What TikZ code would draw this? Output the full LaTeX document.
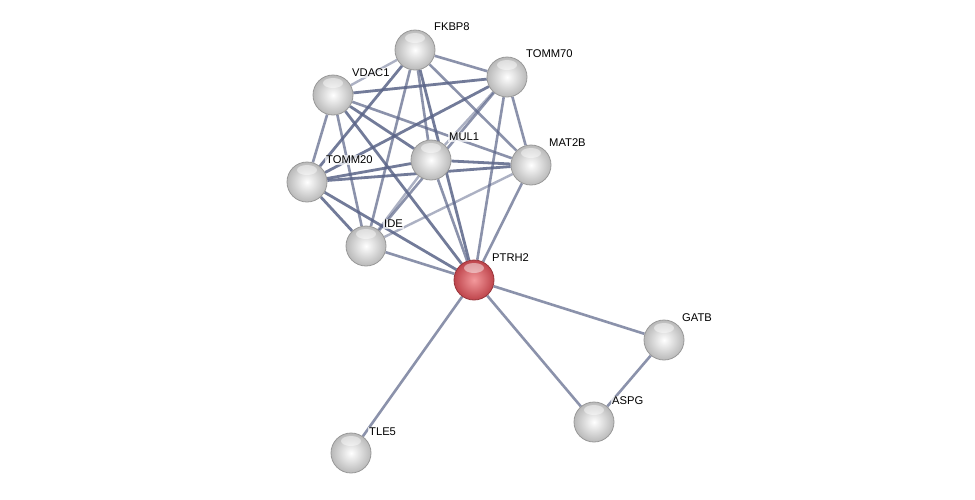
\documentclass[tikz,border=0pt]{standalone}
\usepackage{fontspec}
\setmainfont{Liberation Sans}
\usetikzlibrary{backgrounds}
\definecolor{edgec}{HTML}{5A6488}
\definecolor{redin}{HTML}{F3999C}
\definecolor{redout}{HTML}{BE444B}
\begin{document}
\begin{tikzpicture}[x=1pt,y=-1pt,
  ball/.style={circle,minimum size=40pt,inner sep=0pt,draw=gray!80,line width=0.8pt,
    shading=radial,inner color=white,outer color=gray!55,
    path picture={\fill[white,opacity=0.45] ([yshift=-8pt]path picture bounding box.north) ellipse (10pt and 5pt);}},
  redball/.style={ball,draw=redout!80!black,inner color=redin,outer color=redout},
  lab/.style={anchor=west,inner sep=1pt,fill=white,fill opacity=0.7,text opacity=1,
    font=\fontsize{11.2}{13}\selectfont},
  e/.style={draw=edgec,line width=2.8pt,opacity=0.85},
  em/.style={draw=edgec,line width=2.6pt,opacity=0.7},
  el/.style={draw=edgec,line width=2.4pt,opacity=0.5},
]
\useasboundingbox (0,0) rectangle (975,499);
% nodes
\node[ball] (FKBP8) at (415,50) {};
\node[ball] (TOMM70) at (507,77) {};
\node[ball] (VDAC1) at (333,95) {};
\node[ball] (MUL1) at (431,160) {};
\node[ball] (MAT2B) at (531,165) {};
\node[ball] (TOMM20) at (307,182) {};
\node[ball] (IDE) at (366,246) {};
\node[redball] (PTRH2) at (474,280) {};
\node[ball] (GATB) at (664,340) {};
\node[ball] (ASPG) at (594,422) {};
\node[ball] (TLE5) at (351,453) {};
% labels
\node[lab] (lFKBP8) at (433,27) {FKBP8};
\node[lab] (lTOMM70) at (525,54) {TOMM70};
\node[lab] (lVDAC1) at (351,73) {VDAC1};
\node[lab] (lMUL1) at (448,137) {MUL1};
\node[lab] (lMAT2B) at (548,143) {MAT2B};
\node[lab] (lTOMM20) at (325,160) {TOMM20};
\node[lab] (lIDE) at (383,224) {IDE};
\node[lab] (lPTRH2) at (491,258) {PTRH2};
\node[lab] (lGATB) at (681,318) {GATB};
\node[lab] (lASPG) at (611,401) {ASPG};
\node[lab] (lTLE5) at (368,432) {TLE5};
% edges
\begin{scope}[on background layer]
\fill[white] (0,0) rectangle (975,499);
\draw[el] (FKBP8) -- (VDAC1);
\draw[em] (FKBP8) -- (TOMM70);
\draw[em] (FKBP8) -- (MAT2B);
\draw[em] (FKBP8) -- (MUL1);
\draw[e] (FKBP8) -- (TOMM20);
\draw[em] (FKBP8) -- (IDE);
\draw[e] (FKBP8) -- (PTRH2);
\draw[e] (VDAC1) -- (TOMM70);
\draw[em] (VDAC1) -- (TOMM20);
\draw[em] (VDAC1) -- (IDE);
\draw[e] (VDAC1) -- (MUL1);
\draw[em] (VDAC1) -- (MAT2B);
\draw[e] (VDAC1) -- (PTRH2);
\draw[e] (TOMM70) -- (TOMM20);
\draw[el] (TOMM70) -- (MUL1);
\draw[em] (TOMM70) -- (IDE);
\draw[em] (TOMM70) -- (MAT2B);
\draw[em] (TOMM70) -- (PTRH2);
\draw[e] (MUL1) -- (TOMM20);
\draw[e] (MUL1) -- (MAT2B);
\draw[el] (MUL1) -- (IDE);
\draw[em] (MUL1) -- (PTRH2);
\draw[e] (TOMM20) -- (MAT2B);
\draw[e] (TOMM20) -- (IDE);
\draw[e] (TOMM20) -- (PTRH2);
\draw[el] (MAT2B) -- (IDE);
\draw[em] (MAT2B) -- (PTRH2);
\draw[em] (IDE) -- (PTRH2);
\draw[em] (PTRH2) -- (GATB);
\draw[em] (PTRH2) -- (ASPG);
\draw[em] (PTRH2) -- (TLE5);
\draw[em] (GATB) -- (ASPG);
\end{scope}
\end{tikzpicture}
\end{document}
